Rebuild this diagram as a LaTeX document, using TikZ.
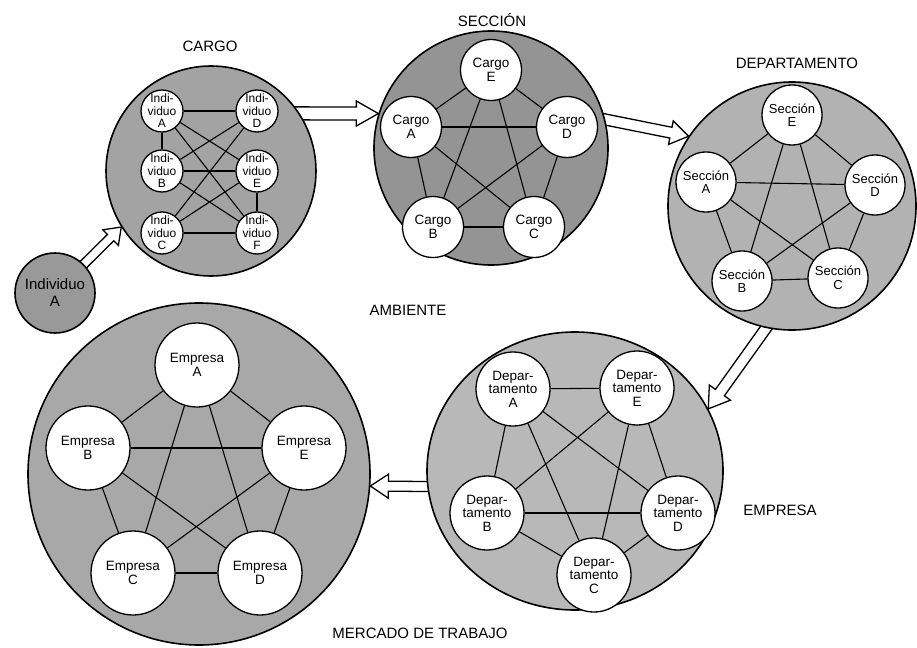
\documentclass[tikz,border=0pt]{standalone}
\usepackage{fontspec}
\setmainfont{Liberation Sans}
\usetikzlibrary{calc,backgrounds,shapes.geometric}
\newcommand{\hollowarrow}[5]{%
  \coordinate (hs) at ($(#1)!-10pt!(#2)$);
  \coordinate (hb) at ($(#2)!#5!(#1)$);
  \draw[hollow] ($(hs)!#3!90:(#2)$) -- ($(hb)!#3!90:(#2)$) -- ($(hb)!#4!90:(#2)$) -- (#2)
     -- ($(hb)!#4!-90:(#2)$) -- ($(hb)!#3!-90:(#2)$) -- ($(hs)!#3!-90:(#2)$) -- cycle;}
\newcommand{\innode}[4]{%
  \node[#1] (#2) at (#3) {};
  \node[#1txt] (#2t) at (#2) {#4};}
\begin{document}
\begin{tikzpicture}[x=1pt,y=-1pt,
  big/.style={circle, draw, line width=1.6pt, inner sep=0pt},
  smallc/.style={circle, draw, fill=white, line width=1.3pt, inner sep=0pt},
  txt/.style={align=center, inner sep=0pt},
  nindi/.style={smallc, minimum size=42pt},
  ninditxt/.style={txt, font=\fontsize{12}{12.4}\selectfont},
  nsecc/.style={smallc, minimum size=61pt},
  nsecctxt/.style={txt, font=\fontsize{13.5}{13.5}\selectfont},
  ndept/.style={smallc, minimum size=60pt},
  ndepttxt/.style={txt, font=\fontsize{13}{13.5}\selectfont},
  nemp/.style={smallc, minimum size=74pt},
  nemptxt/.style={txt, font=\fontsize{13.5}{13.5}\selectfont},
  nmerc/.style={smallc, minimum size=84pt},
  nmerctxt/.style={txt, font=\fontsize{13.5}{14}\selectfont},
  lbl/.style={font=\fontsize{15}{18}\selectfont, inner sep=0pt},
  edge/.style={line width=1.1pt},
  hollow/.style={draw, fill=white, line width=1.3pt, line join=miter}]
\useasboundingbox (0,0) rectangle (917,647);

% outer circles
\node[big, fill=black!40, minimum size=80pt, align=center, font=\fontsize{15}{17}\selectfont] (ind) at (55,293) {Individuo\\A};
\node[big, fill=black!36, minimum size=210pt] (cargo) at (211,171) {};
\node[big, fill=black!42, minimum size=234pt] (secc) at (491,148) {};
\node[big, fill=black!30, minimum size=248pt] (dept) at (792,206) {};
\node[big, ellipse, fill=black!28, minimum width=296pt, minimum height=278pt] (emp) at (575,471) {};
\node[big, fill=black!34, minimum size=342pt] (merc) at (199,474) {};

% labels
\node[lbl] (lcargo) at (210,46) {CARGO};
\node[lbl] (lsecc) at (492,20) {SECCIÓN};
\node[lbl] (ldept) at (797,63) {DEPARTAMENTO};
\node[lbl] (lamb) at (408,310) {AMBIENTE};
\node[lbl] (lemp) at (780,510) {EMPRESA};
\node[lbl] (lmerc) at (420,633) {MERCADO DE TRABAJO};

% CARGO
\innode{nindi}{iA}{162,111}{Indi-\\viduo\\A}
\innode{nindi}{iD}{257,111}{Indi-\\viduo\\D}
\innode{nindi}{iB}{162,171}{Indi-\\viduo\\B}
\innode{nindi}{iE}{257,171}{Indi-\\viduo\\E}
\innode{nindi}{iC}{162,233}{Indi-\\viduo\\C}
\innode{nindi}{iF}{257,233}{Indi-\\viduo\\F}
\foreach \a/\b in {A/D,A/B,A/E,A/F,B/D,B/E,B/F,C/D,C/E,C/F,E/F}
  \draw[edge] (i\a) -- (i\b);

% SECCION
\innode{nsecc}{sE}{491,70}{Cargo\\E}
\innode{nsecc}{sA}{411,127}{Cargo\\A}
\innode{nsecc}{sD}{567,127}{Cargo\\D}
\innode{nsecc}{sB}{433,227}{Cargo\\B}
\innode{nsecc}{sC}{534,227}{Cargo\\C}

% DEPARTAMENTO
\innode{ndept}{dE}{792,115}{Sección\\E}
\innode{ndept}{dA}{706,182}{Sección\\A}
\innode{ndept}{dD}{875,185}{Sección\\D}
\innode{ndept}{dB}{742,281}{Sección\\B}
\innode{ndept}{dC}{838,278}{Sección\\C}

% EMPRESA
\innode{nemp}{eA}{513,389}{Depar-\\tamento\\A}
\innode{nemp}{eE}{637,388}{Depar-\\tamento\\E}
\innode{nemp}{eB}{487,513}{Depar-\\tamento\\B}
\innode{nemp}{eD}{678,513}{Depar-\\tamento\\D}
\innode{nemp}{eC}{594,575}{Depar-\\tamento\\C}

% MERCADO
\innode{nmerc}{mA}{197,365}{Empresa\\A}
\innode{nmerc}{mB}{88,448}{Empresa\\B}
\innode{nmerc}{mE}{304,448}{Empresa\\E}
\innode{nmerc}{mC}{133,573}{Empresa\\C}
\innode{nmerc}{mD}{260,573}{Empresa\\D}

\foreach \p in {s,d,e,m}
  \foreach \a/\b in {A/B,A/C,A/D,A/E,B/C,B/D,B/E,C/D,C/E,D/E}
    \draw[edge] (\p\a) -- (\p\b);

\begin{pgfonlayer}{background}
  \fill[white] (0,0) rectangle (917,647);
  \hollowarrow{ind.45}{cargo.212}{4.5pt}{11pt}{15pt}
  \hollowarrow{cargo.33}{secc.163}{6.5pt}{12.5pt}{22pt}
  \hollowarrow{secc.14}{dept.146}{5.5pt}{12pt}{18pt}
  \hollowarrow{dept.258}{emp.25}{5.5pt}{13pt}{20pt}
  \hollowarrow{emp.186}{merc.-4}{5pt}{12pt}{18pt}
\end{pgfonlayer}
\end{tikzpicture}
\end{document}
